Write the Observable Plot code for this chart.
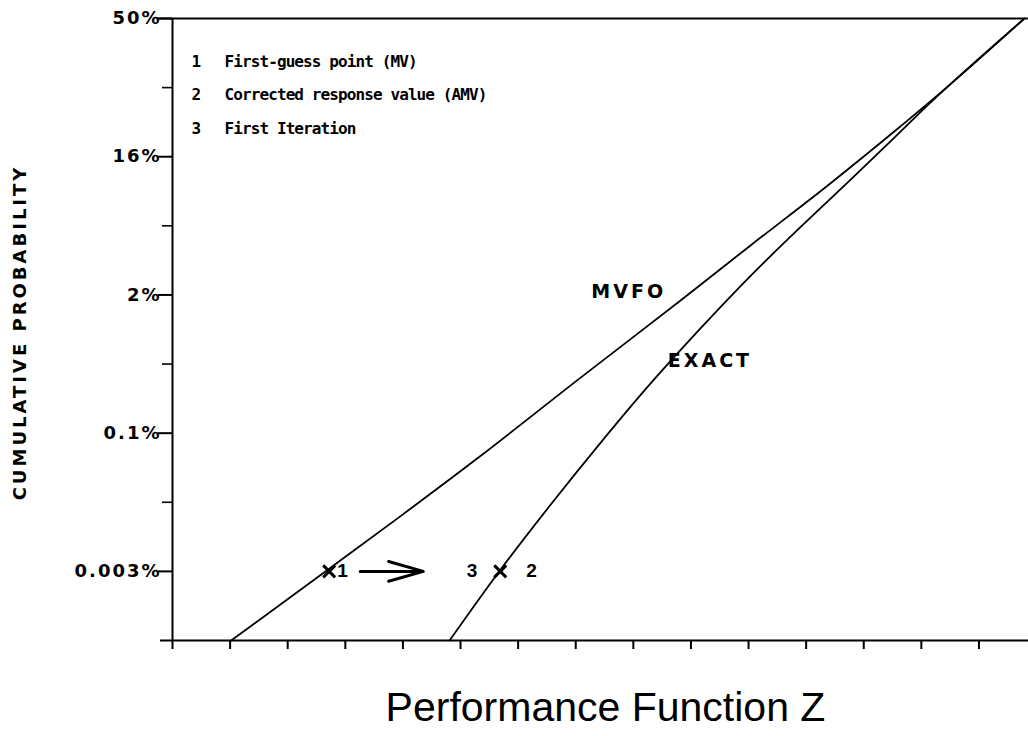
<!DOCTYPE html>
<html>
<head>
<meta charset="utf-8">
<script src="https://cdn.jsdelivr.net/npm/d3@7"></script>
<script src="https://cdn.jsdelivr.net/npm/@observablehq/plot@0.6"></script>
<style>
  html, body { margin: 0; padding: 0; background: #fff; }
  #chart svg { display: block; }
  g[aria-label="y-axis tick label"] text { font: bold 18px "DejaVu Sans"; letter-spacing: 2px; }
</style>
</head>
<body>
<div id="chart"></div>
<script>
// ---- data ----
// x: performance function Z (tick units); y: standard normal variate (sigma) of the cumulative probability
const xTicks = [0, 1, 2, 3, 4, 5, 6, 7, 8, 9, 10, 11, 12, 13, 14];
const yTickValues = [0, -1, -2, -3, -4];
const yTickLabels = ["50%", "16%", "2%", "0.1%", "0.003%"];
const yMinorTicks = [-0.5, -1.5, -2.5, -3.5];

const curveNames = ["MVFO", "EXACT"];
const mvfoZ     = [1.02, 2.69, 3.96, 5.30, 7.08, 8.82, 10.04, 11.37, 12.64, 13.13, 14.79];
const mvfoSigma = [-4.5, -3.99, -3.60, -3.18, -2.60, -2.04, -1.64, -1.21, -0.78, -0.61, 0.0];
const exactZ     = [4.81, 5.69, 6.56, 7.43, 8.30, 9.17, 10.04, 10.90, 11.80, 12.50, 13.13, 14.79];
const exactSigma = [-4.5, -3.99, -3.52, -3.07, -2.64, -2.24, -1.86, -1.51, -1.155, -0.875, -0.62, 0.0];

const legendNumbers = ["1", "2", "3"];
const legendTexts = ["First-guess point (MV)", "Corrected response value (AMV)", "First Iteration"];

// marked points: 1 = first guess (MV) on MVFO, 2/3 = corrected (AMV) / first iteration on EXACT
const markerZ = [2.72, 5.69];
const markerSigma = [-4.0, -4.0];

const xAxisTitle = "Performance Function Z";
const yAxisTitle = "CUMULATIVE PROBABILITY";

// ---- build table ----
const curves = [
  ...mvfoZ.map((z, i) => ({curve: curveNames[0], z, s: mvfoSigma[i]})),
  ...exactZ.map((z, i) => ({curve: curveNames[1], z, s: exactSigma[i]}))
];
const markers = markerZ.map((z, i) => ({z, s: markerSigma[i]}));

const mono = "DejaVu Sans Mono";
const sans = "DejaVu Sans";

const chart = Plot.plot({
  width: 1028,
  height: 736,
  marginLeft: 172,
  marginRight: 0,
  marginTop: 18,
  marginBottom: 96,
  x: {domain: [0, 14.86], axis: null},
  y: {domain: [-4.5, 0], axis: null},
  style: {background: "white", color: "black", overflow: "visible"},
  marks: [
    // frame lines
    Plot.ruleY([0], {insetLeft: -15, stroke: "black", strokeWidth: 2}),
    Plot.ruleY([-4.5], {insetLeft: -12, stroke: "black", strokeWidth: 2}),
    Plot.ruleX([0], {stroke: "black", strokeWidth: 2}),
    // axes
    Plot.axisX({ticks: xTicks, tickSize: 9, tickFormat: () => "", label: null, strokeWidth: 2}),
    Plot.axisY({ticks: yMinorTicks, tickSize: 10, tickFormat: () => "", label: null, strokeWidth: 1.6}),
    Plot.axisY({
      ticks: yTickValues,
      tickSize: 14,
      tickPadding: -3,
      tickFormat: d => yTickLabels[yTickValues.indexOf(d)],
      label: null,
      strokeWidth: 2,
      fontSize: 18,
      fontWeight: "bold",
      fontFamily: sans
    }),
    // curves
    Plot.line(curves, {x: "z", y: "s", z: "curve", stroke: "black", strokeWidth: 1.8, curve: "monotone-x"}),
    // markers
    Plot.dot(markers, {x: "z", y: "s", symbol: "times", r: 5.5, stroke: "black", strokeWidth: 3}),
    Plot.arrow([0], {
      x1: () => markerZ[0], y1: () => markerSigma[0],
      x2: () => markerZ[1], y2: () => markerSigma[1],
      insetStart: 31, insetEnd: 77, headLength: 18, headAngle: 32, stroke: "black", strokeWidth: 3
    }),
    Plot.text(["1"], {x: () => markerZ[0], y: () => markerSigma[0], dx: 8, textAnchor: "start",
      fontFamily: "Liberation Sans", fontWeight: "bold", fontSize: 19}),
    Plot.text(["3"], {x: () => markerZ[1], y: () => markerSigma[1], dx: -23, textAnchor: "end",
      fontFamily: "Liberation Sans", fontWeight: "bold", fontSize: 19}),
    Plot.text(["2"], {x: () => markerZ[1], y: () => markerSigma[1], dx: 26, textAnchor: "start",
      fontFamily: "Liberation Sans", fontWeight: "bold", fontSize: 19}),
    // curve labels
    Plot.text([curveNames[0]], {x: () => 7.92, y: () => -1.98, textAnchor: "middle",
      fontFamily: sans, fontWeight: "bold", fontSize: 19}),
    Plot.text([curveNames[1]], {x: () => 9.33, y: () => -2.48, textAnchor: "middle",
      fontFamily: sans, fontWeight: "bold", fontSize: 19}),
    // legend
    ...legendNumbers.map((n, i) => Plot.text([n], {frameAnchor: "top-left", dx: 19, dy: 37 + 33.5 * i,
      textAnchor: "start", fontFamily: mono, fontWeight: "bold", fontSize: 16})),
    ...legendTexts.map((t, i) => Plot.text([t], {frameAnchor: "top-left", dx: 52, dy: 37 + 33.5 * i,
      textAnchor: "start", fontFamily: mono, fontWeight: "bold", fontSize: 16})),
    // axis titles
    Plot.text([xAxisTitle], {frameAnchor: "bottom", dx: 5, dy: 80, textAnchor: "middle",
      fontFamily: "Liberation Sans", fontSize: 41}),
    Plot.text([yAxisTitle], {frameAnchor: "left", dx: -152, dy: 3, rotate: -90, textAnchor: "middle",
      fontFamily: sans, fontWeight: "bold", fontSize: 18})
  ]
});

// letter spacing for the typewriter-style texts
const spacing = new Map([
  [yAxisTitle, "3px"],
  [curveNames[0], "3px"],
  [curveNames[1], "3px"],
  ...legendTexts.map(t => [t, "-0.9px"])
]);
d3.select(chart).selectAll("text").each(function () {
  const s = spacing.get(this.textContent);
  if (s) this.style.letterSpacing = s;
});

document.getElementById("chart").appendChild(chart);
</script>
</body>
</html>
